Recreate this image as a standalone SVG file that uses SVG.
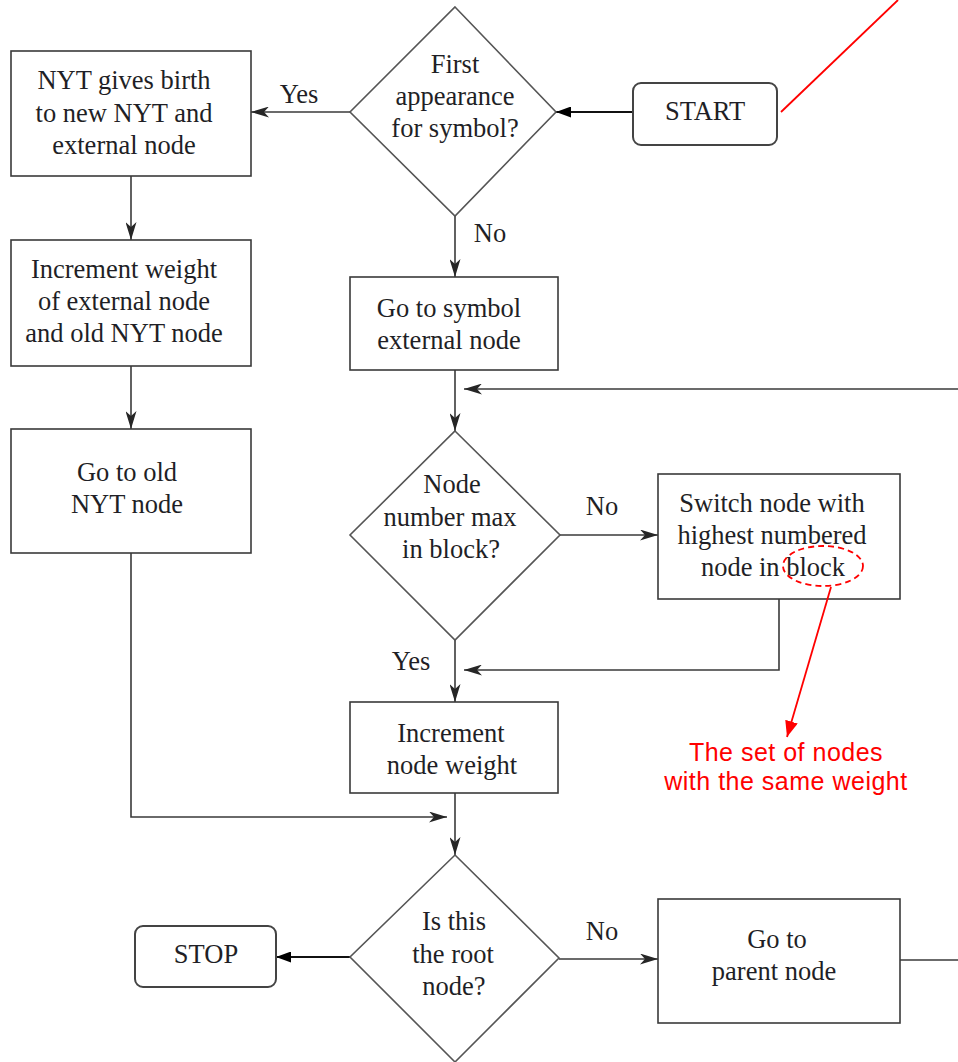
<svg xmlns="http://www.w3.org/2000/svg" width="958" height="1062" viewBox="0 0 958 1062">
  <style>
    .box { fill: #fff; stroke: #3a3a3a; stroke-width: 1.6; }
    .term { fill: #fff; stroke: #444; stroke-width: 2; }
    .dia { fill: #fff; stroke: #555; stroke-width: 1.6; }
    .t { font-family: "Liberation Serif", "Times New Roman", serif; font-size: 26.5px; fill: #1f1f26; text-anchor: middle; }
    .lbl { font-family: "Liberation Serif", "Times New Roman", serif; font-size: 26.5px; fill: #1f1f26; text-anchor: middle; }
    .conn { fill: none; stroke: #3a3a3a; stroke-width: 1.6; marker-end: url(#arr); }
    .plain { fill: none; stroke: #3a3a3a; stroke-width: 1.6; }
    .blk { fill: none; stroke: #111; stroke-width: 2; marker-end: url(#arrBlk); }
    .note { fill: none; stroke: #ff0000; stroke-width: 1.8; }
    .noteText { font-family: "Liberation Sans", Arial, sans-serif; font-size: 25px; letter-spacing: 0.5px; fill: #ff0000; text-anchor: middle; }
  </style>
  <defs>
    <marker id="arr" viewBox="0 0 18 11" refX="18" refY="5.5" markerWidth="18" markerHeight="11" markerUnits="userSpaceOnUse" orient="auto">
      <path d="M0,0 L18,5.5 L0,11 L5,5.5 z" fill="#262626"/>
    </marker>
    <marker id="arrBlk" viewBox="0 0 15 11" refX="15" refY="5.5" markerWidth="15" markerHeight="11" markerUnits="userSpaceOnUse" orient="auto">
      <path d="M0,0 L15,5.5 L0,11 z" fill="#000"/>
    </marker>
    <marker id="arrRed" viewBox="0 0 16 13" refX="16" refY="6.5" markerWidth="16" markerHeight="13" markerUnits="userSpaceOnUse" orient="auto">
      <path d="M0,0 L16,6.5 L0,13 z" fill="#ff0000"/>
    </marker>
  </defs>

  <rect width="958" height="1062" fill="#fff"/>

  <!-- connectors -->
  <g id="connectors">
    <path class="blk" d="M633,112 H556"/>
    <path class="conn" d="M350,112 H251"/>
    <path class="conn" d="M131,176 V240"/>
    <path class="conn" d="M131,366 V429"/>
    <path class="conn" d="M455,216 V277"/>
    <path class="conn" d="M455,370 V431"/>
    <path class="conn" d="M958,389 H464"/>
    <path class="conn" d="M560,535 H658"/>
    <path class="conn" d="M779,599 V670 H464"/>
    <path class="conn" d="M455,640 V702"/>
    <path class="conn" d="M131,553 V817 H447"/>
    <path class="conn" d="M455,793 V855"/>
    <path class="conn" d="M559,959 H658"/>
    <path class="blk" d="M350,957 H276"/>
    <path class="plain" d="M900,960 H958"/>
    <text class="lbl" x="299" y="103">Yes</text>
    <text class="lbl" x="490" y="242">No</text>
    <text class="lbl" x="602" y="515">No</text>
    <text class="lbl" x="411" y="670">Yes</text>
    <text class="lbl" x="602" y="940">No</text>
  </g>

  <!-- start terminal -->
  <g id="start">
    <rect class="term" x="633" y="83" width="144" height="62" rx="8"/>
    <text class="t" x="705" y="120">START</text>
  </g>

  <!-- first-appearance decision -->
  <g id="first-appearance">
    <polygon class="dia" points="455,7 556,112 455,216 350,112"/>
    <text class="t" x="455" y="73">First</text>
    <text class="t" x="455" y="105">appearance</text>
    <text class="t" x="455" y="137">for symbol?</text>
  </g>

  <g id="nyt-birth">
    <rect class="box" x="11" y="51" width="240" height="125"/>
    <text class="t" x="124" y="89">NYT gives birth</text>
    <text class="t" x="124" y="122">to new NYT and</text>
    <text class="t" x="124" y="154">external node</text>
  </g>

  <g id="increment-external">
    <rect class="box" x="11" y="240" width="240" height="126"/>
    <text class="t" x="124" y="278">Increment weight</text>
    <text class="t" x="124" y="310">of external node</text>
    <text class="t" x="124" y="342">and old NYT node</text>
  </g>

  <g id="old-nyt">
    <rect class="box" x="11" y="429" width="240" height="124"/>
    <text class="t" x="127" y="481">Go to old</text>
    <text class="t" x="127" y="513">NYT node</text>
  </g>

  <g id="symbol-node">
    <rect class="box" x="350" y="277" width="208" height="93"/>
    <text class="t" x="449" y="317">Go to symbol</text>
    <text class="t" x="449" y="349">external node</text>
  </g>

  <g id="max-in-block">
    <polygon class="dia" points="455,431 560,535 455,640 350,535"/>
    <text class="t" x="452" y="493">Node</text>
    <text class="t" x="450" y="526">number max</text>
    <text class="t" x="451" y="558">in block?</text>
  </g>

  <g id="switch-node">
    <rect class="box" x="658" y="474" width="242" height="125"/>
    <text class="t" x="772" y="512">Switch node with</text>
    <text class="t" x="772" y="544">highest numbered</text>
    <text class="t" x="773" y="576">node in block</text>
  </g>

  <g id="increment-node">
    <rect class="box" x="350" y="702" width="208" height="91"/>
    <text class="t" x="451" y="742">Increment</text>
    <text class="t" x="452" y="774">node weight</text>
  </g>

  <g id="is-root">
    <polygon class="dia" points="455,855 559,958 455,1062 350,957"/>
    <text class="t" x="454" y="930">Is this</text>
    <text class="t" x="453" y="963">the root</text>
    <text class="t" x="454" y="995">node?</text>
  </g>

  <g id="stop">
    <rect class="term" x="135" y="926" width="141" height="61" rx="8"/>
    <text class="t" x="206" y="963">STOP</text>
  </g>

  <g id="parent-node">
    <rect class="box" x="658" y="899" width="242" height="124"/>
    <text class="t" x="777" y="948">Go to</text>
    <text class="t" x="774" y="980">parent node</text>
  </g>

  <!-- red annotation -->
  <g id="annotation">
    <path class="note" d="M781,112 L898,0"/>
    <ellipse class="note" cx="823" cy="566" rx="40" ry="20" stroke-dasharray="6,4"/>
    <path class="note" d="M831,587 L787,737" marker-end="url(#arrRed)"/>
    <text class="noteText" x="786" y="761">The set of nodes</text>
    <text class="noteText" x="786" y="790">with the same weight</text>
  </g>
</svg>
